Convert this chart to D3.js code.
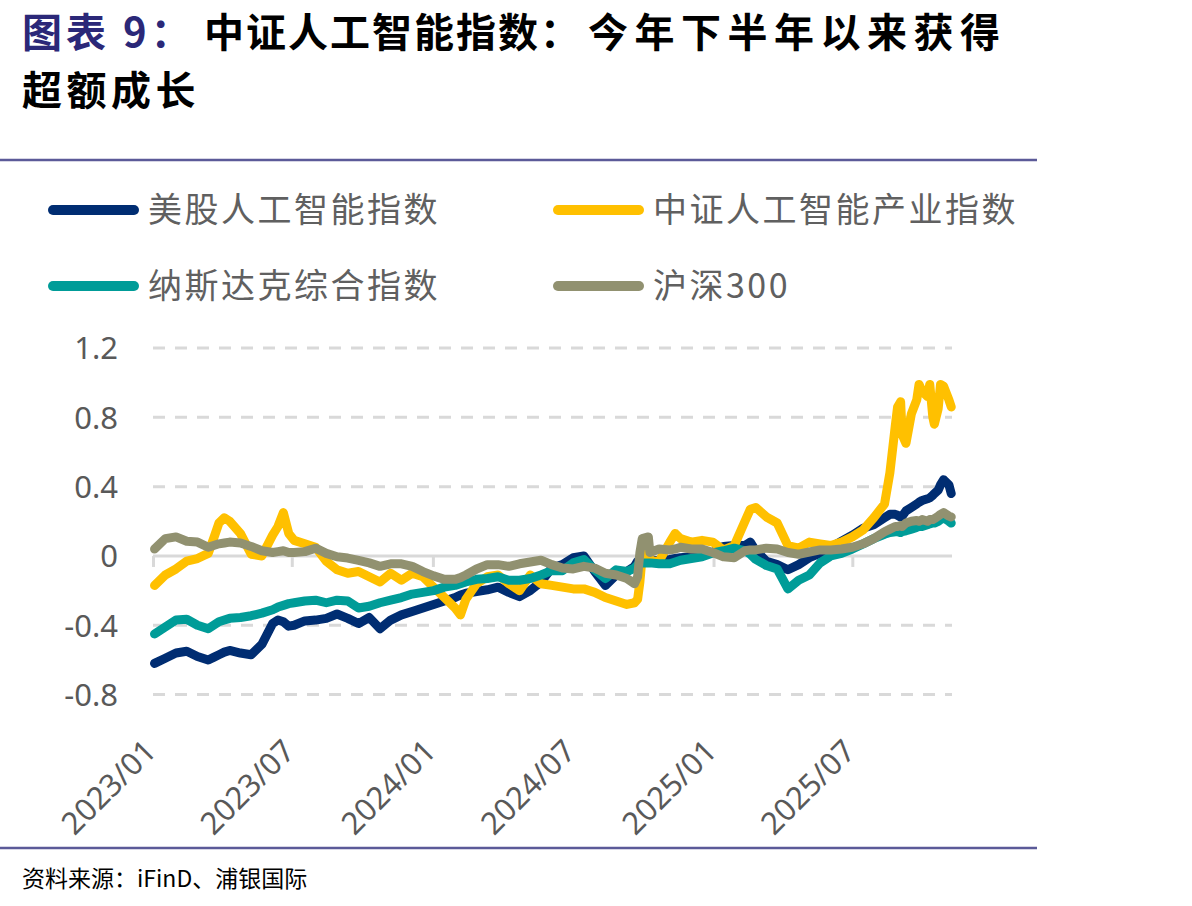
<!DOCTYPE html>
<html>
<head>
<meta charset="utf-8">
<script src="https://cdn.jsdelivr.net/npm/d3@7"></script>
<style>
	body { margin: 0; background: #fff; }
	svg { display: block; }
</style>
</head>
<body>
<div id="chart-area"></div>
<script>
// DATA (roughly every two weeks plus extra points at spikes)
const DATES = [
	"2023-01-03","2023-01-17","2023-01-31","2023-02-14","2023-02-28","2023-03-14","2023-03-21","2023-03-28","2023-04-04","2023-04-11",
	"2023-04-25","2023-05-09","2023-05-23","2023-06-06","2023-06-13","2023-06-20","2023-06-27","2023-07-04","2023-07-18","2023-08-01",
	"2023-08-15","2023-08-29","2023-09-12","2023-09-26","2023-10-10","2023-10-24","2023-11-07","2023-11-21","2023-12-05","2023-12-19",
	"2024-01-02","2024-01-16","2024-01-30","2024-02-06","2024-02-13","2024-02-27","2024-03-12","2024-03-26","2024-04-09","2024-04-23",
	"2024-05-07","2024-05-21","2024-06-04","2024-06-18","2024-07-02","2024-07-16","2024-07-30","2024-08-13","2024-08-27","2024-09-10",
	"2024-09-20","2024-09-24","2024-09-27","2024-09-30","2024-10-08","2024-10-10","2024-10-22","2024-11-05","2024-11-12","2024-11-19",
	"2024-12-03","2024-12-17","2024-12-31","2025-01-14","2025-01-28","2025-02-11","2025-02-18","2025-02-25","2025-03-11","2025-03-25",
	"2025-04-08","2025-04-22","2025-05-06","2025-05-20","2025-06-03","2025-06-17","2025-07-01","2025-07-15","2025-07-29","2025-08-12",
	"2025-08-19","2025-08-26","2025-08-29","2025-09-02","2025-09-04","2025-09-09","2025-09-16","2025-09-23","2025-09-26","2025-09-30",
	"2025-10-07","2025-10-10","2025-10-14","2025-10-16","2025-10-21","2025-10-24","2025-10-28","2025-11-04","2025-11-07"
]

// 美股人工智能指数
const US_AI = [
	-0.62,-0.59,-0.56,-0.55,-0.58,-0.60,-0.585,-0.57,-0.555,-0.545,
	-0.56,-0.57,-0.51,-0.39,-0.37,-0.38,-0.405,-0.40,-0.375,-0.37,
	-0.36,-0.335,-0.36,-0.39,-0.355,-0.42,-0.37,-0.34,-0.32,-0.30,
	-0.28,-0.26,-0.24,-0.225,-0.215,-0.205,-0.195,-0.18,-0.21,-0.235,
	-0.20,-0.15,-0.07,-0.05,-0.01,0.00,-0.09,-0.17,-0.11,-0.09,
	-0.06,-0.03,-0.03,-0.03,-0.03,-0.03,-0.025,-0.02,-0.015,-0.01,
	-0.005,0.005,0.02,0.055,0.06,0.06,0.08,0.03,-0.03,-0.05,
	-0.08,-0.05,-0.01,0.015,0.05,0.085,0.12,0.16,0.18,0.22,
	0.24,0.24,0.235,0.225,0.23,0.26,0.28,0.30,0.31,0.32,
	0.33,0.335,0.35,0.36,0.38,0.41,0.44,0.41,0.36
]

// 中证人工智能产业指数
const CSI_AI = [
	-0.17,-0.11,-0.075,-0.03,-0.015,0.015,0.10,0.19,0.22,0.20,
	0.13,0.01,0.00,0.12,0.17,0.25,0.13,0.09,0.07,0.05,
	-0.03,-0.08,-0.10,-0.09,-0.12,-0.15,-0.10,-0.14,-0.10,-0.12,
	-0.18,-0.24,-0.30,-0.34,-0.25,-0.16,-0.12,-0.11,-0.16,-0.20,
	-0.11,-0.16,-0.17,-0.18,-0.19,-0.19,-0.21,-0.24,-0.26,-0.28,
	-0.27,-0.25,-0.15,0.00,0.03,-0.03,-0.03,0.08,0.13,0.10,
	0.08,0.09,0.08,0.035,0.06,0.20,0.27,0.28,0.225,0.19,
	0.06,0.045,0.08,0.07,0.06,0.08,0.11,0.15,0.22,0.30,
	0.48,0.75,0.86,0.89,0.70,0.65,0.82,0.90,0.99,0.95,
	0.92,0.99,0.80,0.76,0.85,0.99,0.98,0.90,0.86
]

// 纳斯达克综合指数
const NASDAQ = [
	-0.45,-0.41,-0.37,-0.365,-0.40,-0.42,-0.40,-0.38,-0.37,-0.36,
	-0.355,-0.345,-0.33,-0.31,-0.295,-0.285,-0.275,-0.27,-0.26,-0.255,
	-0.27,-0.255,-0.26,-0.30,-0.29,-0.27,-0.255,-0.24,-0.22,-0.21,
	-0.20,-0.18,-0.17,-0.16,-0.15,-0.135,-0.13,-0.12,-0.14,-0.14,
	-0.13,-0.11,-0.085,-0.085,-0.04,-0.02,-0.08,-0.13,-0.08,-0.09,
	-0.07,-0.05,-0.045,-0.04,-0.04,-0.04,-0.045,-0.045,-0.035,-0.025,
	-0.015,-0.005,0.017,0.03,0.045,0.03,0.01,-0.02,-0.055,-0.075,
	-0.19,-0.14,-0.11,-0.04,0.00,0.015,0.04,0.07,0.10,0.125,
	0.135,0.14,0.14,0.135,0.14,0.145,0.155,0.165,0.17,0.17,
	0.18,0.185,0.19,0.19,0.20,0.21,0.22,0.20,0.19
]

// 沪深300
const HS300 = [
	0.04,0.10,0.11,0.085,0.08,0.05,0.06,0.07,0.075,0.08,
	0.075,0.055,0.03,0.02,0.025,0.03,0.02,0.02,0.025,0.045,
	0.015,-0.005,-0.012,-0.025,-0.04,-0.06,-0.045,-0.045,-0.06,-0.09,
	-0.115,-0.135,-0.135,-0.125,-0.11,-0.075,-0.05,-0.05,-0.06,-0.045,
	-0.035,-0.025,-0.05,-0.07,-0.075,-0.06,-0.07,-0.10,-0.11,-0.13,
	-0.16,-0.12,0.02,0.10,0.11,0.02,0.04,0.035,0.04,0.05,
	0.04,0.04,0.02,-0.005,-0.01,0.03,0.035,0.035,0.045,0.04,
	0.02,0.01,0.023,0.035,0.035,0.04,0.05,0.07,0.10,0.14,
	0.155,0.17,0.17,0.175,0.17,0.19,0.20,0.205,0.20,0.21,
	0.20,0.21,0.21,0.215,0.23,0.24,0.25,0.23,0.225
]

const SERIES_NAMES = ["美股人工智能指数", "中证人工智能产业指数", "纳斯达克综合指数", "沪深300"]
const SERIES_VALUES = [US_AI, CSI_AI, NASDAQ, HS300]
const SERIES_COLORS = ["#002D72", "#FFC000", "#009C98", "#919170"]

const Y_TICKS = [-0.8, -0.4, 0, 0.4, 0.8, 1.2]
const X_TICKS = ["2023-01-01", "2023-07-01", "2024-01-01", "2024-07-01", "2025-01-01", "2025-07-01"]

const TITLE_PREFIX = "图表 9："
const TITLE_PART1 = "中证人工智能指数："
const TITLE_PART2 = "今年下半年以来获得"
const TITLE_LINE2 = "超额成长"
const SOURCE = "资料来源：iFinD、浦银国际"

// CANVAS
const AREA_WIDTH = 1192
const AREA_HEIGHT = 906

// PLOT AREA (pixels)
const PLOT = { LEFT: 153, RIGHT: 952, TOP: 348, BOTTOM: 694.6 }

const CJK = "'Noto Sans CJK SC', 'Noto Sans', sans-serif"
const NUM = "'Noto Sans', 'Open Sans', sans-serif"
const GREY_TEXT = "#595959"
const GRID = "#D9D9D9"

const parseDate = d3.timeParse("%Y-%m-%d")

const svg = d3.select("#chart-area").append("svg")
	.attr("width", AREA_WIDTH)
	.attr("height", AREA_HEIGHT)

// TITLE (first line in three pieces so the spacing follows the reference)
const title = svg.append("text")
	.attr("y", 47)
	.attr("font-family", CJK)
	.attr("font-size", "40px")
	.attr("font-weight", 700)

title.append("tspan")
	.attr("x", 22)
	.attr("fill", "#2B2878")
	.attr("letter-spacing", "4px")
	.text(TITLE_PREFIX)

title.append("tspan")
	.attr("x", 204)
	.attr("fill", "#000")
	.attr("letter-spacing", "2px")
	.text(TITLE_PART1)

title.append("tspan")
	.attr("x", 588)
	.attr("fill", "#000")
	.attr("letter-spacing", "6.5px")
	.text(TITLE_PART2)

svg.append("text")
	.attr("x", 22)
	.attr("y", 105)
	.attr("font-family", CJK)
	.attr("font-size", "40px")
	.attr("font-weight", 700)
	.attr("letter-spacing", "4.5px")
	.attr("fill", "#000")
	.text(TITLE_LINE2)

// RULES ABOVE AND BELOW THE CHART
svg.selectAll("line.rule")
	.data([160, 848])
	.enter().append("line")
	.attr("class", "rule")
	.attr("x1", 0)
	.attr("x2", 1037)
	.attr("y1", d => d)
	.attr("y2", d => d)
	.attr("stroke", "#5B5A98")
	.attr("stroke-width", 2.5)

// SOURCE NOTE
svg.append("text")
	.attr("x", 22)
	.attr("y", 887)
	.attr("font-family", CJK)
	.attr("font-size", "23px")
	.attr("fill", "#000")
	.text(SOURCE)

// LEGEND (two columns, two rows)
const legend = svg.append("g")
	.selectAll("g")
	.data(SERIES_NAMES)
	.enter().append("g")
	.attr("transform", (d, i) => `translate(${i % 2 === 0 ? 53 : 558},${i < 2 ? 210 : 286})`)

legend.append("line")
	.attr("x1", 0)
	.attr("x2", 81)
	.attr("stroke", (d, i) => SERIES_COLORS[i])
	.attr("stroke-width", 10)
	.attr("stroke-linecap", "round")

legend.append("text")
	.attr("x", 95)
	.attr("y", 12)
	.attr("font-family", CJK)
	.attr("font-size", "34px")
	.attr("letter-spacing", "2.5px")
	.attr("fill", "#606060")
	.text(d => d)

// SCALES
const x = d3.scaleTime()
	.domain([parseDate("2023-01-01"), parseDate("2025-11-08")])
	.range([PLOT.LEFT, PLOT.RIGHT])

const y = d3.scaleLinear()
	.domain([-0.8, 1.2])
	.range([PLOT.BOTTOM, PLOT.TOP])

const g = svg.append("g")

// GRIDLINES (dashed, zero line solid)
g.selectAll("line.grid")
	.data(Y_TICKS.filter(v => v !== 0))
	.enter().append("line")
	.attr("class", "grid")
	.attr("x1", PLOT.LEFT)
	.attr("x2", PLOT.RIGHT)
	.attr("y1", d => y(d))
	.attr("y2", d => y(d))
	.attr("stroke", GRID)
	.attr("stroke-width", 3)
	.attr("stroke-dasharray", "12,10")

// Y AXIS LABELS (plain hyphen for negatives, like the reference)
const yAxisCall = d3.axisLeft(y)
	.tickValues(Y_TICKS)
	.tickSize(0)
	.tickPadding(0)
	.tickFormat(d => d === 0 ? "0" : d.toFixed(1))

const yAxis = g.append("g")
	.attr("class", "y axis")
	.attr("transform", `translate(118,0)`)
	.call(yAxisCall)

yAxis.select(".domain").remove()
yAxis.selectAll("text")
	.attr("font-family", NUM)
	.attr("font-size", "31px")
	.attr("fill", GREY_TEXT)
	.attr("dy", "0.35em")

// X AXIS ON THE ZERO LINE
const xTickDates = X_TICKS.map(parseDate)

const xAxisCall = d3.axisBottom(x)
	.tickValues(xTickDates)
	.tickSize(11)
	.tickFormat("")

const xAxis = g.append("g")
	.attr("class", "x axis")
	.attr("transform", `translate(0,${y(0)})`)
	.call(xAxisCall)

xAxis.select(".domain")
	.attr("d", `M${PLOT.LEFT},0H${PLOT.RIGHT}`)
	.attr("stroke", GRID)
	.attr("stroke-width", 3)

xAxis.selectAll(".tick line")
	.attr("stroke", GRID)
	.attr("stroke-width", 3)

// X LABELS, ROTATED, AT THE BOTTOM OF THE PLOT
g.selectAll("text.xlabel")
	.data(xTickDates)
	.enter().append("text")
	.attr("class", "xlabel")
	.attr("transform", d => `translate(${x(d) + 5},753) rotate(-45)`)
	.attr("text-anchor", "end")
	.attr("font-family", NUM)
	.attr("font-size", "31px")
	.attr("fill", GREY_TEXT)
	.text(d3.timeFormat("%Y/%m"))

// LINES
const line = d3.line()
	.x(d => x(d.date))
	.y(d => y(d.value))

const dates = DATES.map(parseDate)

g.selectAll("path.series")
	.data(SERIES_VALUES.map(vals => vals.map((v, i) => ({ date: dates[i], value: v }))))
	.enter().append("path")
	.attr("class", "series")
	.attr("fill", "none")
	.attr("stroke", (d, i) => SERIES_COLORS[i])
	.attr("stroke-width", 9)
	.attr("stroke-linejoin", "round")
	.attr("stroke-linecap", "round")
	.attr("d", line)
</script>
</body>
</html>
